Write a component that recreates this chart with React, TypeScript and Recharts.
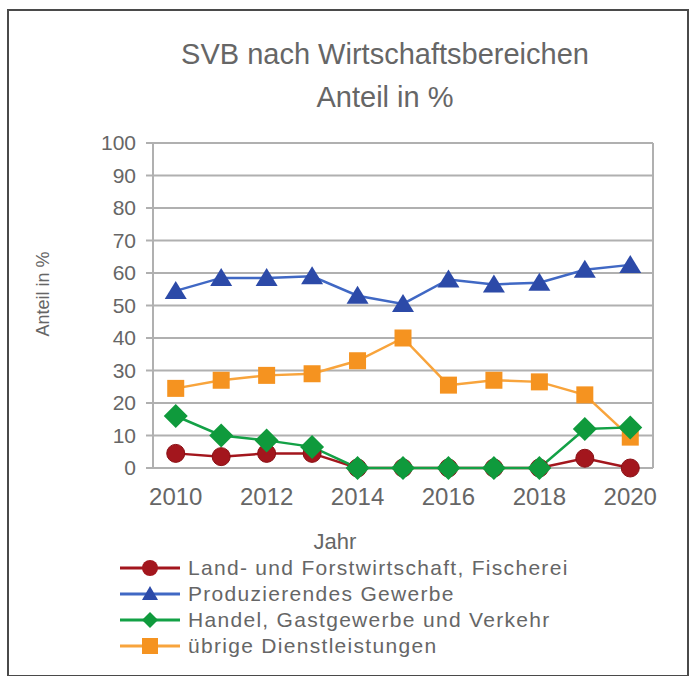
import React from 'react'
import { LineChart, Line, XAxis, YAxis, CartesianGrid, ReferenceLine } from 'recharts'

const years = [2010, 2011, 2012, 2013, 2014, 2015, 2016, 2017, 2018, 2019, 2020]
const landForst = [4.5, 3.5, 4.5, 4.5, 0, 0, 0, 0, 0, 3, 0]
const produzierend = [54.5, 58.5, 58.5, 59, 53, 50.5, 58, 56.5, 57, 61, 62.5]
const handel = [16, 10, 8.5, 6.5, 0, 0, 0, 0, 0, 12, 12.5]
const uebrige = [24.5, 27, 28.5, 29, 33, 40, 25.5, 27, 26.5, 22.5, 9.5]

const yTicks = [0, 10, 20, 30, 40, 50, 60, 70, 80, 90, 100]
const xLabelTicks = [2010, 2012, 2014, 2016, 2018, 2020]
const xTickMarks = [2009.5, 2010.5, 2011.5, 2012.5, 2013.5, 2014.5, 2015.5, 2016.5, 2017.5, 2018.5, 2019.5, 2020.5]

const seriesNames = [
  'Land- und Forstwirtschaft, Fischerei',
  'Produzierendes Gewerbe',
  'Handel, Gastgewerbe und Verkehr',
  'übrige Dienstleistungen',
]

const data = years.map((y, i) => ({
  year: y,
  land: landForst[i],
  prod: produzierend[i],
  handel: handel[i],
  uebrige: uebrige[i],
}))

const RED = '#a3161d'
const BLUE = '#4068c4'
const BLUE_DARK = '#2c4aa8'
const GREEN = '#13a146'
const GREEN_DARK = '#0f9a3c'
const ORANGE = '#f8a43c'
const ORANGE_DARK = '#f59320'
const TEXT = '#666666'
const GRID = '#b0b0b0'
const FONT = '"Liberation Sans", Arial, sans-serif'

const Circle = (p: any) => <circle key={p.key} cx={p.cx} cy={p.cy} r={9} fill={RED} stroke="#8a1015" strokeWidth={1} />
const Tri = (p: any) => (
  <polygon key={p.key} points={`${p.cx},${p.cy - 10} ${p.cx + 11},${p.cy + 8} ${p.cx - 11},${p.cy + 8}`} fill={BLUE_DARK} />
)
const Diamond = (p: any) => (
  <polygon key={p.key} points={`${p.cx},${p.cy - 12} ${p.cx + 12},${p.cy} ${p.cx},${p.cy + 12} ${p.cx - 12},${p.cy}`} fill={GREEN_DARK} />
)
const Square = (p: any) => <rect key={p.key} x={p.cx - 8.5} y={p.cy - 8.5} width={17} height={17} fill={ORANGE_DARK} />

const legendItems = [
  { name: seriesNames[0], color: RED, icon: <circle cx={30} cy={9} r={8} fill={RED} /> },
  { name: seriesNames[1], color: BLUE, icon: <polygon points="30,1 38,15 22,15" fill={BLUE_DARK} /> },
  { name: seriesNames[2], color: GREEN, icon: <polygon points="30,1 38,9 30,17 22,9" fill={GREEN_DARK} /> },
  { name: seriesNames[3], color: ORANGE, icon: <rect x={22} y={1} width={16} height={16} fill={ORANGE_DARK} /> },
]

export default function App() {
  return (
    <div style={{ position: 'absolute', left: 0, top: 0, width: 692, height: 676, background: '#fff', fontFamily: FONT, color: TEXT, overflow: 'hidden' }}>
      <div style={{ position: 'absolute', left: 7, top: 9, width: 678, height: 664, border: '2px solid #4a4a4a' }} />
      <div style={{ position: 'absolute', left: 0, width: 770, top: 33, textAlign: 'center', fontSize: 29, lineHeight: '43px' }}>
        SVB nach Wirtschaftsbereichen
        <br />
        Anteil in %
      </div>
      <div style={{ position: 'absolute', left: 43, top: 294, transform: 'translate(-50%, -50%) rotate(-90deg)', fontSize: 18, whiteSpace: 'nowrap' }}>
        Anteil in %
      </div>
      <div style={{ position: 'absolute', left: 335, top: 542, transform: 'translate(-50%, -50%)', fontSize: 22 }}>Jahr</div>
      <LineChart width={692} height={676} data={data} margin={{ top: 143, right: 39, left: 0, bottom: 168 }} style={{ position: 'absolute', left: 0, top: 0 }}>
        <CartesianGrid vertical={false} stroke={GRID} strokeWidth={2} xAxisId="lab" />
        <XAxis xAxisId="marks" type="number" dataKey="year" domain={[2009.5, 2020.5]} ticks={xTickMarks} height={0}
          tickFormatter={() => ''} stroke={GRID} strokeWidth={2} tickSize={7} allowDataOverflow />
        <XAxis xAxisId="lab" type="number" dataKey="year" domain={[2009.5, 2020.5]} ticks={xLabelTicks} height={40}
          axisLine={false} tickLine={false} tickSize={6} tickMargin={14} allowDataOverflow
          tick={{ fill: TEXT, fontSize: 24, fontFamily: FONT }} />
        <YAxis domain={[0, 100]} ticks={yTicks} width={153} stroke={GRID} strokeWidth={2} tickSize={7} tickMargin={10}
          tick={{ fill: TEXT, fontSize: 21, fontFamily: FONT }} />
        <ReferenceLine xAxisId="lab" x={2020.5} stroke={GRID} strokeWidth={2} />
        <Line xAxisId="lab" dataKey="land" stroke={RED} strokeWidth={2.5} dot={Circle} isAnimationActive={false} />
        <Line xAxisId="lab" dataKey="uebrige" stroke={ORANGE} strokeWidth={2.5} dot={Square} isAnimationActive={false} />
        <Line xAxisId="lab" dataKey="handel" stroke={GREEN} strokeWidth={2.5} dot={Diamond} isAnimationActive={false} />
        <Line xAxisId="lab" dataKey="prod" stroke={BLUE} strokeWidth={2.5} dot={Tri} isAnimationActive={false} />
      </LineChart>
      <div style={{ position: 'absolute', left: 120, top: 555 }}>
        {legendItems.map((it) => (
          <div key={it.name} style={{ display: 'flex', alignItems: 'center', height: 26, fontSize: 21, letterSpacing: 1.3, whiteSpace: 'nowrap' }}>
            <svg width={62} height={18} style={{ marginRight: 6 }}>
              <line x1={0} y1={9} x2={60} y2={9} stroke={it.color} strokeWidth={3} />
              {it.icon}
            </svg>
            {it.name}
          </div>
        ))}
      </div>
    </div>
  )
}
